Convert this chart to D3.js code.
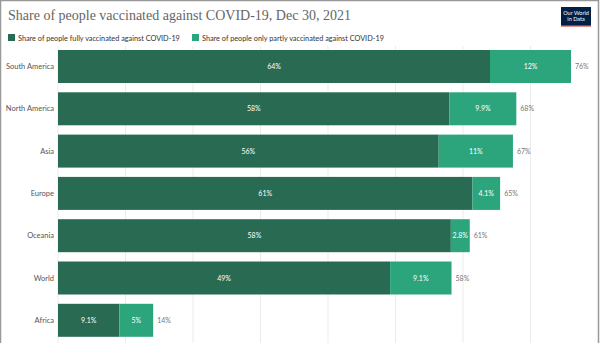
<!DOCTYPE html>
<html>
<head>
<meta charset="utf-8">
<script src="https://cdnjs.cloudflare.com/ajax/libs/d3/7.8.5/d3.min.js"></script>
<style>
  body { margin: 0; background: #fff; }
  svg { display: block; }
  .lbl { font-family: Lato, sans-serif; }
</style>
</head>
<body>
<script>
// chart data
const regions = ["South America", "North America", "Asia", "Europe", "Oceania", "World", "Africa"];
const fully   = [64, 58, 56.4, 61.4, 58.2, 49.2, 9.1];
const partly  = [12, 9.9, 11, 4.1, 2.8, 9.1, 5];
const totals  = ["76%", "68%", "67%", "65%", "61%", "58%", "14%"];
const fullyLabels  = ["64%", "58%", "56%", "61%", "58%", "49%", "9.1%"];
const partlyLabels = ["12%", "9.9%", "11%", "4.1%", "2.8%", "9.1%", "5%"];
const gridTicks = [0, 10, 20, 30, 40, 50, 60, 70];

const W = 600, H = 343;
const colFull = "#286b52", colPart = "#2ca57d";

const svg = d3.select("body").append("svg")
  .attr("width", W).attr("height", H);

// frame
svg.append("rect").attr("x", 0.5).attr("y", 0.5)
  .attr("width", W - 2).attr("height", H + 5)
  .attr("fill", "none").attr("stroke", "#999").attr("stroke-width", 1.5);

svg.append("text")
  .attr("x", 8).attr("y", 20)
  .style("font-family", "'Liberation Serif', serif")
  .style("font-size", "14px")
  .style("fill", "#666")
  .text("Share of people vaccinated against COVID-19, Dec 30, 2021");

// logo
const logo = svg.append("g").attr("transform", "translate(561,7)");
logo.append("rect").attr("width", 30).attr("height", 18).attr("fill", "#002147");
logo.append("rect").attr("y", 18).attr("width", 30).attr("height", 1.5).attr("fill", "#ce261e");
logo.append("text").attr("x", 15).attr("y", 7.5).attr("text-anchor", "middle")
  .attr("class", "lbl").style("font-size", "5.5px").style("fill", "#fff").text("Our World");
logo.append("text").attr("x", 15).attr("y", 14).attr("text-anchor", "middle")
  .attr("class", "lbl").style("font-size", "5.5px").style("fill", "#fff").text("in Data");

// legend
const legend = [
  {x: 8, c: colFull, t: "Share of people fully vaccinated against COVID-19"},
  {x: 192, c: colPart, t: "Share of people only partly vaccinated against COVID-19"}
];
legend.forEach(l => {
  svg.append("rect").attr("x", l.x).attr("y", 34).attr("width", 7).attr("height", 7).attr("fill", l.c);
  svg.append("text").attr("x", l.x + 10).attr("y", 40.5)
    .attr("class", "lbl").style("font-size", "7.3px").style("fill", "#333").text(l.t);
});

const margin = {left: 58, top: 50};
const x = d3.scaleLinear().domain([0, 100]).range([margin.left, margin.left + 675]);
const y = d3.scaleBand().domain(regions).range([margin.top, margin.top + 6 * 42.3 + 33]).paddingInner(0.22).paddingOuter(0);

// gridlines
svg.append("g").selectAll("line").data(gridTicks).join("line")
  .attr("x1", d => x(d)).attr("x2", d => x(d))
  .attr("y1", 46).attr("y2", H)
  .attr("stroke", "#ebebeb").attr("stroke-width", 1);

const rows = svg.append("g").selectAll("g").data(regions).join("g");

rows.append("rect")
  .attr("x", x(0)).attr("y", d => y(d))
  .attr("width", (d, i) => x(fully[i]) - x(0))
  .attr("height", y.bandwidth()).attr("fill", colFull);

rows.append("rect")
  .attr("x", (d, i) => x(fully[i])).attr("y", d => y(d))
  .attr("width", (d, i) => x(fully[i] + partly[i]) - x(fully[i]))
  .attr("height", y.bandwidth()).attr("fill", colPart);

rows.append("text")
  .attr("x", x(0) - 4).attr("y", d => y(d) + y.bandwidth() / 2 + 2.5)
  .attr("text-anchor", "end").attr("class", "lbl")
  .style("font-size", "7.5px").style("fill", "#555").text(d => d);

rows.append("text")
  .attr("x", (d, i) => (x(0) + x(fully[i])) / 2)
  .attr("y", d => y(d) + y.bandwidth() / 2 + 2.5)
  .attr("text-anchor", "middle").attr("class", "lbl")
  .style("font-size", "7px").style("fill", "#fff").text((d, i) => fullyLabels[i]);

rows.append("text")
  .attr("x", (d, i) => (x(fully[i]) + x(fully[i] + partly[i])) / 2)
  .attr("y", d => y(d) + y.bandwidth() / 2 + 2.5)
  .attr("text-anchor", "middle").attr("class", "lbl")
  .style("font-size", "7px").style("fill", "#fff").text((d, i) => partlyLabels[i]);

rows.append("text")
  .attr("x", (d, i) => x(fully[i] + partly[i]) + 4)
  .attr("y", d => y(d) + y.bandwidth() / 2 + 2.5)
  .attr("class", "lbl")
  .style("font-size", "7px").style("fill", "#777").text((d, i) => totals[i]);
</script>
</body>
</html>
